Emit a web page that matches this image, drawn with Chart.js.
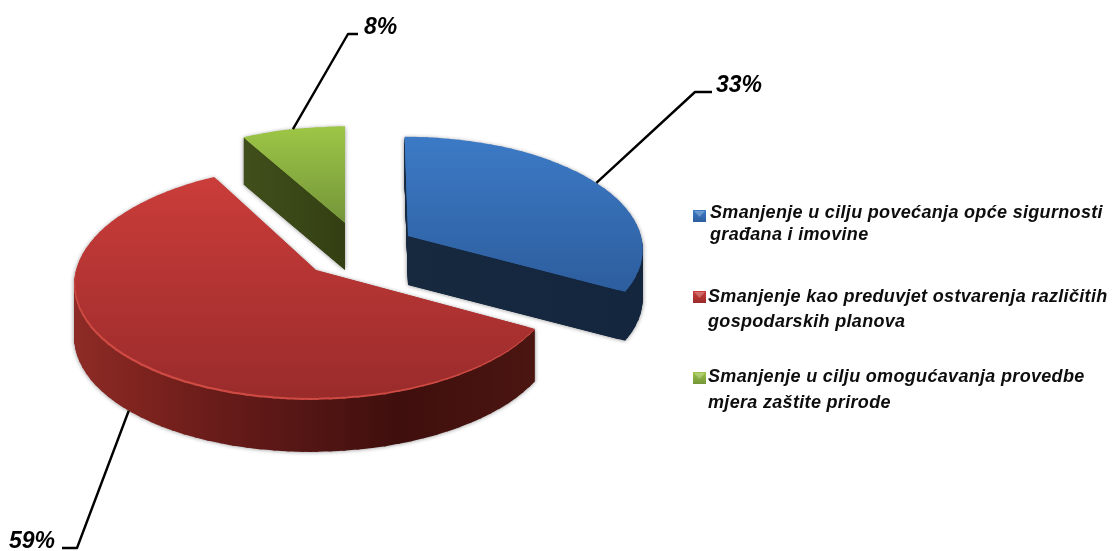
<!DOCTYPE html>
<html>
<head>
<meta charset="utf-8">
<title>Smanjenje</title>
<script src="https://cdn.jsdelivr.net/npm/chart.js@4"></script>
<style>
    html, body { margin: 0; padding: 0; background: #ffffff; }
    canvas { display: block; filter: blur(0.4px); }
</style>
</head>
<body>
<canvas id="pie3d" width="1112" height="551"></canvas>
<script>
// Chart data
const categories = [
    'Smanjenje u cilju povećanja opće sigurnosti građana i imovine',
    'Smanjenje kao preduvjet ostvarenja različitih gospodarskih planova',
    'Smanjenje u cilju omogućavanja provedbe mjera zaštite prirode'
];
const values = [33, 59, 8];
const legendLines = [
    ['Smanjenje u cilju povećanja opće sigurnosti', 'građana i imovine'],
    ['Smanjenje kao preduvjet ostvarenja različitih', 'gospodarskih planova'],
    ['Smanjenje u cilju omogućavanja provedbe', 'mjera zaštite prirode']
];
const sliceColors = ['#3a74bb', '#b53331', '#8cb040'];

// Look of each slice: where the exploded apex sits, the projection radii and the gradients
const sliceStyles = [
    {
        apex: [408, 236], rx: 233, ry: 110, skew: 0.016, depth: 49,
        top: [137, 290, '#3c7ac6', '#2d5e9e'],
        side: [404, 643, [[0, '#16293f'], [1, '#14263e']]],
        leader: [[695, 92], [712, 92]], labelAt: [716, 86]
    },
    {
        apex: [316, 270], rx: 240, ry: 116, skew: -0.02, depth: 52, rim: '#cf4a42',
        top: [177, 400, '#cb3d3a', '#9a2b2b'],
        side: [73, 534, [[0, '#8e2b27'], [0.13, '#80241f'], [0.3, '#6a1c1a'], [0.5, '#541614'], [0.71, '#3f0f0d'], [1, '#4b1511']]],
        leader: [[77, 548], [62, 548]], labelAt: [9, 542]
    },
    {
        apex: [345, 223], rx: 231, ry: 107, skew: 0, depth: 47,
        top: [127, 223, '#9dc646', '#74953a'],
        side: [243, 345, [[0, '#414f1c'], [1, '#333f12']]],
        leader: [[348, 34], [358, 34]], labelAt: [364, 28]
    }
];
const legendRows = [
    { marker: [693, 210], lineY: [213, 235], x: 710 },
    { marker: [693, 291], lineY: [297, 322], x: 708 },
    { marker: [693, 372], lineY: [377, 403], x: 708 }
];
const perspective = 0.107;
const labelFont = 'italic bold 23px "Liberation Sans"';
const legendFont = 'italic bold 18px "Liberation Sans"';

function project(angle, style) {
    // angle is the Chart.js arc angle, screen offset from the apex
    const sx = Math.cos(angle);
    const sy = Math.sin(angle);
    const w = 1 - perspective * sy;
    return { x: style.rx * (sx + style.skew * sy) / w, y: style.ry * sy / w };
}

function newLayer(w, h) {
    const layer = document.createElement('canvas');
    layer.width = w;
    layer.height = h;
    return layer;
}

// Draw the arc through thin wedges, each with its own affine map, to fake the perspective
function drawFlatArc(ctx, arc, style) {
    const step = Math.PI / 60;
    const R = arc.outerRadius;
    for (let a = arc.startAngle; a < arc.endAngle - 1e-6; a += step) {
        const a2 = Math.min(a + step, arc.endAngle);
        const u1 = { x: R * Math.cos(a), y: R * Math.sin(a) };
        const u2 = { x: R * Math.cos(a2), y: R * Math.sin(a2) };
        const v1 = project(a, style);
        const v2 = project(a2, style);
        const det = u1.x * u2.y - u2.x * u1.y;
        const m11 = (v1.x * u2.y - v2.x * u1.y) / det;
        const m12 = (v2.x * u1.x - v1.x * u2.x) / det;
        const m21 = (v1.y * u2.y - v2.y * u1.y) / det;
        const m22 = (v2.y * u1.x - v1.y * u2.x) / det;
        const e = style.apex[0] - (m11 * arc.x + m12 * arc.y);
        const f = style.apex[1] - (m21 * arc.x + m22 * arc.y);
        ctx.save();
        ctx.setTransform(m11, m21, m12, m22, e, f);
        ctx.beginPath();
        ctx.moveTo(arc.x, arc.y);
        ctx.lineTo(arc.x + 2 * R * Math.cos(a - 0.006), arc.y + 2 * R * Math.sin(a - 0.006));
        ctx.lineTo(arc.x + 2 * R * Math.cos(a2 + 0.006), arc.y + 2 * R * Math.sin(a2 + 0.006));
        ctx.closePath();
        ctx.clip();
        arc.draw(ctx);
        ctx.restore();
    }

    // Close the hairline seams between the wedges, stays just inside the rim
    ctx.fillStyle = arc.options.backgroundColor;
    ctx.beginPath();
    ctx.moveTo(style.apex[0], style.apex[1]);
    for (let a = arc.startAngle; a < arc.endAngle; a += step) {
        const p = project(a, style);
        ctx.lineTo(style.apex[0] + p.x * 0.97, style.apex[1] + p.y * 0.97);
    }
    const last = project(arc.endAngle, style);
    ctx.lineTo(style.apex[0] + last.x * 0.97, style.apex[1] + last.y * 0.97);
    ctx.closePath();
    ctx.fill();
}

function paintSlice(main, arc, style, w, h) {
    const flat = newLayer(w, h);
    drawFlatArc(flat.getContext('2d'), arc, style);

    // Side wall: the flat shape dragged down, then tinted left to right
    const side = newLayer(w, h);
    const sideCtx = side.getContext('2d');
    for (let d = style.depth; d >= 1; d--) {
        sideCtx.drawImage(flat, 0, d);
    }
    const sideGrad = sideCtx.createLinearGradient(style.side[0], 0, style.side[1], 0);
    style.side[2].forEach(s => sideGrad.addColorStop(s[0], s[1]));
    sideCtx.globalCompositeOperation = 'source-atop';
    sideCtx.fillStyle = sideGrad;
    sideCtx.fillRect(0, 0, w, h);

    main.save();
    main.shadowColor = 'rgba(0, 0, 0, 0.45)';
    main.shadowBlur = 4;
    main.drawImage(side, 0, 0);
    main.restore();

    // Top face with vertical gradient
    const tinted = newLayer(w, h);
    const tintedCtx = tinted.getContext('2d');
    tintedCtx.drawImage(flat, 0, 0);
    const topGrad = tintedCtx.createLinearGradient(0, style.top[0], 0, style.top[1]);
    topGrad.addColorStop(0, style.top[2]);
    topGrad.addColorStop(1, style.top[3]);
    tintedCtx.globalCompositeOperation = 'source-atop';
    tintedCtx.fillStyle = topGrad;
    tintedCtx.fillRect(0, 0, w, h);

    if (style.rim) {
        // Light bevel along the front edge
        const rimmed = newLayer(w, h);
        const rimCtx = rimmed.getContext('2d');
        rimCtx.drawImage(flat, 0, 0);
        rimCtx.globalCompositeOperation = 'source-atop';
        rimCtx.fillStyle = style.rim;
        rimCtx.fillRect(0, 0, w, h);
        rimCtx.drawImage(tinted, 1, -2);
        main.drawImage(rimmed, 0, 0);
    } else {
        main.drawImage(tinted, 0, 0);
    }
}

const pie3dPlugin = {
    id: 'pie3d',
    beforeDatasetsDraw(chart) {
        const arcs = chart.getDatasetMeta(0).data;
        // back slices first
        [2, 0, 1].forEach(i => paintSlice(chart.ctx, arcs[i], sliceStyles[i], chart.width, chart.height));
        return false;
    },
    afterDraw(chart) {
        const ctx = chart.ctx;
        const arcs = chart.getDatasetMeta(0).data;

        // Leader lines and percentages
        ctx.save();
        ctx.strokeStyle = '#000000';
        ctx.lineWidth = 2.4;
        ctx.lineJoin = 'round';
        ctx.fillStyle = '#000000';
        ctx.font = labelFont;
        ctx.textBaseline = 'middle';
        arcs.forEach((arc, i) => {
            const style = sliceStyles[i];
            const mid = project((arc.startAngle + arc.endAngle) / 2, style);
            const front = Math.sin((arc.startAngle + arc.endAngle) / 2) > 0;
            ctx.beginPath();
            ctx.moveTo(style.apex[0] + mid.x, style.apex[1] + mid.y + (front ? style.depth : 0));
            style.leader.forEach(p => ctx.lineTo(p[0], p[1]));
            ctx.stroke();
            ctx.fillText(values[i] + '%', style.labelAt[0], style.labelAt[1]);
        });

        // Legend
        ctx.font = legendFont;
        ctx.letterSpacing = '0.32px';
        legendRows.forEach((row, i) => {
            const mx = row.marker[0];
            const my = row.marker[1];
            const grad = ctx.createLinearGradient(0, my, 0, my + 12);
            grad.addColorStop(0, sliceStyles[i].top[2]);
            grad.addColorStop(1, sliceStyles[i].top[3]);
            ctx.fillStyle = grad;
            ctx.fillRect(mx, my, 13, 12);
            ctx.fillStyle = 'rgba(255, 255, 255, 0.25)';
            ctx.beginPath();
            ctx.moveTo(mx + 1, my + 1);
            ctx.lineTo(mx + 12, my + 1);
            ctx.lineTo(mx + 6.5, my + 7);
            ctx.closePath();
            ctx.fill();
            ctx.fillStyle = '#0d0d0d';
            legendLines[i].forEach((line, n) => ctx.fillText(line, row.x, row.lineY[n]));
        });
        ctx.restore();
    }
};

new Chart(document.getElementById('pie3d'), {
    type: 'pie',
    data: {
        labels: categories,
        datasets: [{
            data: values,
            backgroundColor: sliceColors,
            borderWidth: 0
        }]
    },
    options: {
        responsive: false,
        animation: false,
        plugins: {
            legend: { display: false },
            tooltip: { enabled: false }
        }
    },
    plugins: [pie3dPlugin]
});
</script>
</body>
</html>
